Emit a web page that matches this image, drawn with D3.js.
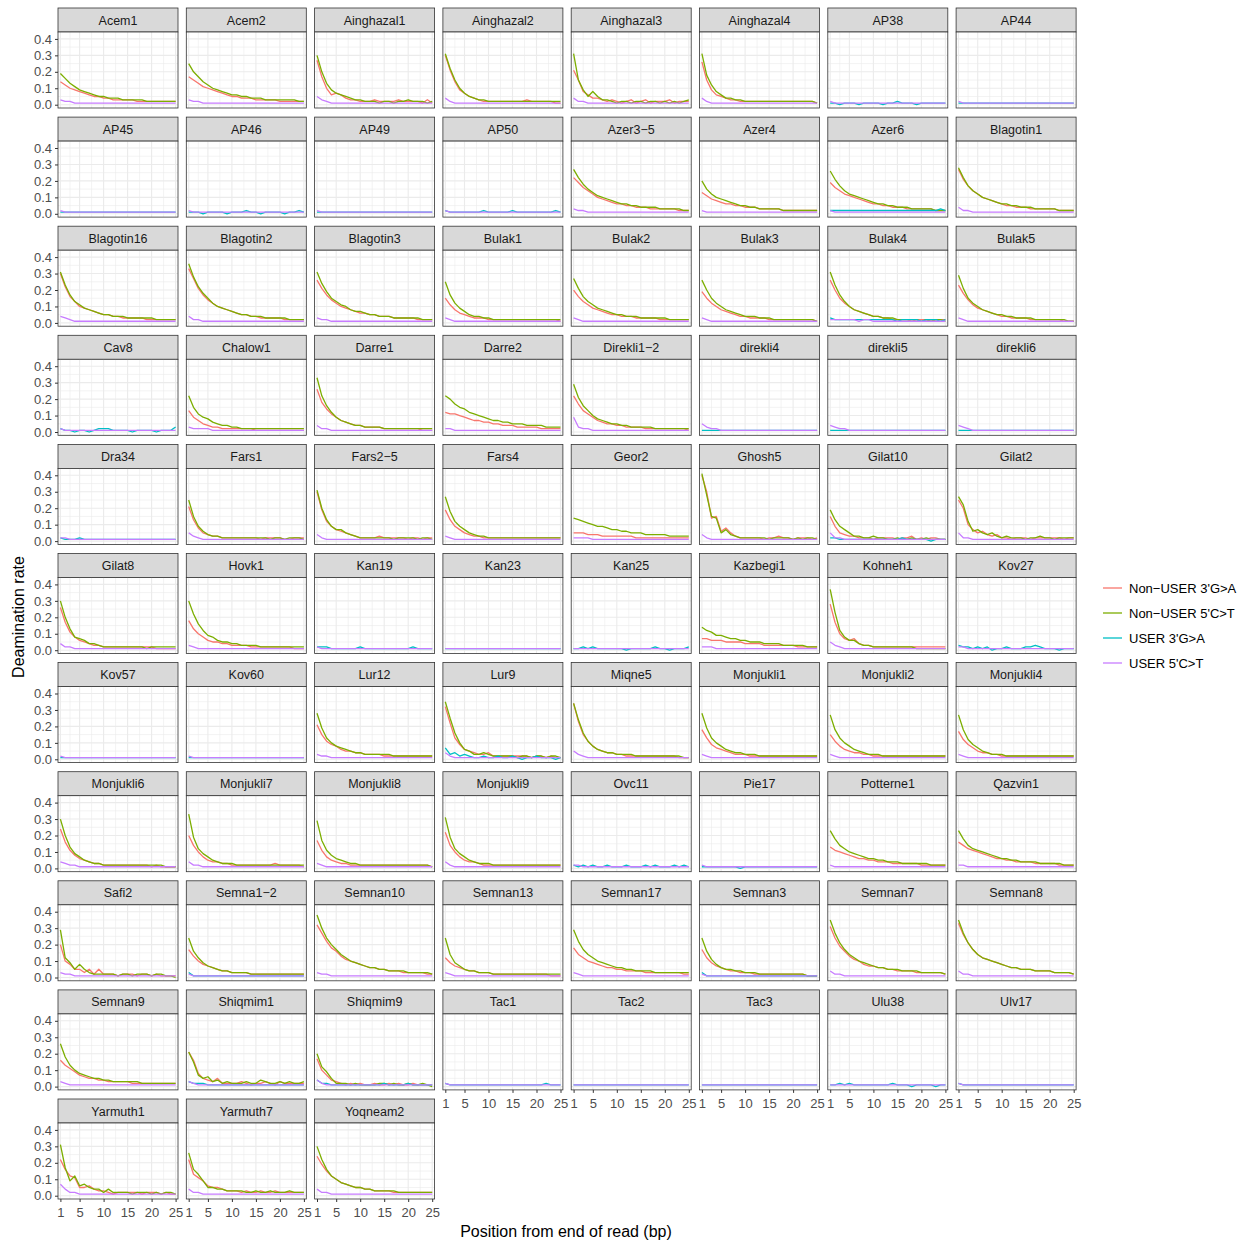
<!DOCTYPE html>
<html><head><meta charset="utf-8">
<script src="https://cdn.jsdelivr.net/npm/d3@7"></script>
<style>body{margin:0;background:#fff}</style>
</head><body>
<svg id="c" width="1247" height="1243"></svg>
<script>
const samples = [
"Acem1","Acem2","Ainghazal1","Ainghazal2","Ainghazal3","Ainghazal4","AP38","AP44",
"AP45","AP46","AP49","AP50","Azer3\u22125","Azer4","Azer6","Blagotin1",
"Blagotin16","Blagotin2","Blagotin3","Bulak1","Bulak2","Bulak3","Bulak4","Bulak5",
"Cav8","Chalow1","Darre1","Darre2","Direkli1\u22122","direkli4","direkli5","direkli6",
"Dra34","Fars1","Fars2\u22125","Fars4","Geor2","Ghosh5","Gilat10","Gilat2",
"Gilat8","Hovk1","Kan19","Kan23","Kan25","Kazbegi1","Kohneh1","Kov27",
"Kov57","Kov60","Lur12","Lur9","Miqne5","Monjukli1","Monjukli2","Monjukli4",
"Monjukli6","Monjukli7","Monjukli8","Monjukli9","Ovc11","Pie17","Potterne1","Qazvin1",
"Safi2","Semna1\u22122","Semnan10","Semnan13","Semnan17","Semnan3","Semnan7","Semnan8",
"Semnan9","Shiqmim1","Shiqmim9","Tac1","Tac2","Tac3","Ulu38","Ulv17",
"Yarmuth1","Yarmuth7","Yoqneam2"];

const positions = [1,2,3,4,5,6,7,8,9,10,11,12,13,14,15,16,17,18,19,20,21,22,23,24,25];
const seriesNames = ["Non\u2212USER 3'G>A","Non\u2212USER 5'C>T","USER 3'G>A","USER 5'C>T"];
const seriesColors = ["#F8766D","#7CAE00","#00BFC4","#C77CFF"];
const yTicks = [0,0.1,0.2,0.3,0.4];
const yTickLabels = ["0.0","0.1","0.2","0.3","0.4"];
const xTicks = [1,5,10,15,20,25];
const xTickLabels = ["1","5","10","15","20","25"];

// values in hundredths, one string of 25 positions per panel
const nonUser3GA = [
"14 12 10 9 8 7 6 5 5 4 4 3 3 3 3 3 2 2 2 2 2 2 2 2 2",
"17 15 13 11 10 9 8 7 6 5 5 4 4 4 3 3 3 3 3 2 2 2 2 2 2",
"27 17 10 6 7 6 4 3 3 2 2 2 3 2 2 2 2 3 2 2 2 2 1 3 1",
"30 21 14 9 7 5 4 3 2 2 2 2 2 2 2 2 2 3 2 2 2 2 2 1 1",
"21 15 8 6 4 4 3 2 3 2 1 2 3 1 2 3 1 2 2 2 3 1 2 2 2",
"26 15 9 6 5 4 3 3 2 2 2 2 2 2 2 2 2 2 2 2 2 2 2 2 1",
null,null,
null,null,null,null,
"22 19 16 14 12 10 9 8 7 6 6 5 5 4 4 4 3 3 3 3 3 3 2 2 2",
"13 11 9 8 7 6 6 5 5 4 4 4 3 3 3 3 3 2 2 2 2 2 2 2 2",
"19 16 14 12 11 10 9 8 7 6 6 5 5 4 4 4 3 3 3 3 3 3 2 2 2",
"27 21 17 14 12 10 9 8 7 6 5 5 4 4 4 3 3 3 3 3 3 2 2 2 2",
"30 22 16 13 10 9 8 7 6 5 5 4 4 3 3 3 3 3 2 2 2 2 2 2 2",
"33 27 21 17 14 12 10 9 8 7 6 5 5 4 4 3 3 3 3 3 2 2 2 2 2",
"26 21 17 14 12 10 9 8 7 6 6 5 5 4 4 4 3 3 3 3 3 2 2 2 2",
"15 11 8 6 5 4 3 3 3 2 2 2 2 2 2 2 2 2 2 2 2 2 2 2 1",
"20 16 13 11 9 8 7 6 5 5 4 4 4 3 3 3 3 3 2 2 2 2 2 2 2",
"19 15 12 10 8 7 6 5 4 4 3 3 3 3 2 2 2 2 2 2 2 2 2 2 1",
"26 20 15 12 10 8 7 6 5 4 4 3 3 2 2 2 2 1 2 2 2 1 2 2 2",
"23 18 14 11 9 8 7 6 5 4 4 3 3 3 3 2 2 2 2 2 2 2 1 1 1",
null,
"13 9 7 5 4 3 3 2 2 2 2 2 2 2 1 1 1 1 1 1 1 1 1 1 1",
"26 18 14 11 9 7 6 5 4 4 3 3 3 3 2 2 2 2 2 2 2 2 1 1 1",
"12 11 11 10 9 8 7 7 6 6 5 5 4 4 4 3 3 3 3 3 2 2 2 2 2",
"22 17 13 11 9 7 6 5 5 4 4 3 3 3 3 2 2 2 2 2 2 2 2 2 1",
null,null,null,
null,
"21 13 8 5 4 3 3 2 2 2 2 2 2 2 2 1 2 2 2 2 1 1 2 2 2",
"30 19 12 9 7 6 5 4 3 2 2 2 2 3 2 2 2 2 2 1 2 2 1 2 2",
"19 13 9 7 5 4 3 3 2 2 2 2 2 2 2 2 2 2 2 2 2 2 2 2 2",
"5 5 5 4 4 4 3 3 3 3 3 3 3 2 2 2 2 2 2 2 2 2 2 2 2",
"40 30 14 15 6 8 5 3 2 2 2 2 2 1 2 2 3 2 2 1 2 2 2 1 2",
"15 9 5 4 3 3 2 2 2 1 2 2 2 2 1 2 2 3 1 2 1 2 2 1 1",
"25 20 10 7 5 6 4 3 4 2 2 1 2 2 2 1 2 2 2 2 2 2 1 2 2",
"26 17 11 8 6 5 4 3 3 2 2 2 2 2 2 2 2 2 2 2 1 1 1 1 1",
"18 13 10 8 6 5 5 4 4 3 3 3 3 2 2 2 2 2 2 2 2 2 1 1 1",
null,null,null,
"7 7 6 6 6 5 5 5 5 4 4 4 4 3 3 3 3 3 3 3 2 2 2 2 2",
"28 17 10 7 6 7 4 3 3 2 2 2 2 2 2 2 2 2 2 2 2 2 2 2 2",
null,
null,null,
"21 15 11 9 8 6 5 5 4 4 3 3 3 3 2 2 2 2 2 2 2 2 2 2 2",
"32 22 13 9 6 5 4 3 3 4 2 2 2 2 2 2 2 2 1 2 2 1 2 1 1",
"34 23 15 11 8 6 5 4 4 3 3 2 2 2 2 2 2 2 2 2 2 2 1 1 1",
"18 13 9 7 6 5 4 3 3 3 2 2 2 2 2 2 2 2 2 2 2 2 2 2 2",
"15 11 8 6 5 4 4 3 3 2 2 2 2 2 2 2 2 2 2 2 2 2 2 2 2",
"17 12 9 7 5 4 4 3 3 2 2 2 2 2 2 2 2 2 2 2 2 2 2 2 2",
"24 16 11 8 6 5 4 3 3 2 2 2 2 2 2 2 2 2 2 1 2 1 1 1 1",
"20 14 10 7 5 4 4 3 3 2 2 2 2 2 2 2 2 2 3 2 2 2 2 2 1",
"17 11 7 5 4 3 3 2 2 2 2 2 2 2 2 2 2 2 2 2 2 2 2 2 1",
"22 14 10 7 5 4 4 3 2 2 2 2 2 2 2 2 2 2 2 2 2 2 2 2 2",
null,null,
"13 11 10 9 8 7 6 6 5 5 4 4 4 3 3 3 3 3 3 2 2 2 2 2 2",
"16 14 12 11 10 9 8 7 6 6 5 5 4 4 4 4 3 3 3 3 3 2 2 2 2",
"20 10 8 5 5 3 5 2 5 2 2 2 1 2 2 2 1 2 2 1 2 1 1 1 1",
"17 13 10 8 7 6 5 4 4 3 3 3 3 2 2 2 2 2 2 2 2 2 2 2 2",
"32 27 22 18 16 13 11 10 9 8 7 6 6 5 5 4 4 4 3 3 3 3 3 2 2",
"12 9 7 6 5 4 4 3 3 3 2 2 2 2 2 2 2 2 2 2 2 2 1 1 1",
"18 14 12 10 9 8 7 6 6 5 5 4 4 4 4 3 3 3 3 3 3 3 3 2 2",
"17 12 9 7 6 5 4 4 3 3 3 2 2 2 2 2 2 2 2 2 2 2 1 1 1",
"31 24 19 16 13 11 10 8 7 7 6 6 5 5 4 4 4 4 3 3 3 3 3 3 2",
"33 26 21 17 14 12 11 10 9 8 7 6 6 5 5 5 4 4 4 4 3 3 3 3 2",
"16 13 11 9 7 6 5 5 4 4 3 3 3 3 3 2 2 2 2 2 2 2 2 2 2",
"21 16 8 5 4 3 5 2 2 2 2 3 2 1 2 2 3 2 1 3 2 2 2 2 2",
"17 10 7 4 3 2 1 2 1 2 1 1 2 1 1 2 1 2 1 1 2 1 1 1 1",
null,null,null,null,null,
"22 16 12 11 5 5 6 4 3 3 2 1 2 2 2 2 2 1 2 2 2 1 2 1 1",
"22 13 11 9 6 5 5 4 3 3 3 2 3 2 2 3 2 2 3 2 2 2 2 2 2",
"24 19 15 12 10 8 7 6 5 5 4 4 3 3 3 3 2 2 2 2 2 2 2 2 2"];

const nonUser5CT = [
"19 16 13 11 9 8 7 6 5 5 4 4 4 3 3 3 3 3 2 2 2 2 2 2 2",
"25 20 17 14 12 10 9 8 7 6 6 5 5 4 4 4 3 3 3 3 3 3 3 2 2",
"30 20 13 9 7 6 5 4 3 3 2 2 2 1 2 2 1 2 2 3 2 2 2 1 2",
"31 22 15 10 7 5 4 3 3 2 2 2 2 2 2 2 2 2 2 2 2 2 2 2 2",
"31 15 9 5 8 5 3 3 2 1 2 2 1 2 2 1 2 2 1 2 1 2 1 2 3",
"31 18 12 8 6 4 4 3 3 2 2 2 2 2 2 2 2 2 2 2 2 2 2 2 1",
null,null,
null,null,null,null,
"27 22 18 15 13 11 10 9 8 7 6 6 5 5 4 4 4 4 3 3 3 3 3 2 2",
"20 15 12 10 9 8 7 6 5 5 4 4 3 3 3 3 3 2 2 2 2 2 2 2 2",
"26 21 17 14 12 11 10 9 8 7 6 6 5 5 4 4 4 3 3 3 3 3 2 2 2",
"28 22 17 14 12 10 9 8 7 6 6 5 5 4 4 4 3 3 3 3 3 2 2 2 2",
"31 23 17 13 11 9 8 7 6 5 5 4 4 4 3 3 3 3 3 3 2 2 2 2 2",
"36 28 22 18 15 12 10 9 8 7 6 5 5 4 4 4 3 3 3 3 3 2 2 2 2",
"31 24 19 15 13 11 10 8 7 7 6 5 5 4 4 4 3 3 3 3 3 3 2 2 2",
"25 17 12 9 7 5 4 4 3 3 2 2 2 2 2 2 2 2 2 2 2 2 2 2 2",
"27 21 16 13 11 9 8 7 6 5 5 4 4 4 3 3 3 3 3 3 2 2 2 2 2",
"26 20 15 12 10 8 7 6 5 4 4 4 3 3 3 2 2 2 2 2 2 2 2 2 1",
"31 23 17 13 10 8 7 6 5 4 4 3 3 3 2 2 2 2 2 1 2 1 2 2 1",
"29 21 15 12 10 8 7 6 5 5 4 4 3 3 3 3 2 2 2 2 2 2 2 1 1",
null,
"22 15 11 9 8 6 5 4 4 3 3 2 2 2 2 2 2 2 2 2 2 2 2 2 2",
"33 22 16 12 9 7 6 5 4 4 3 3 3 3 2 2 2 2 2 2 2 2 2 2 2",
"22 20 17 15 14 12 11 10 9 8 7 7 6 6 5 5 5 4 4 4 4 3 3 3 3",
"29 21 16 13 10 8 7 6 5 5 4 4 3 3 3 3 3 2 2 2 2 2 2 2 2",
null,null,null,
null,
"25 15 9 6 4 3 3 2 2 2 2 2 2 2 2 2 2 1 2 2 1 2 2 2 1",
"31 20 13 9 7 7 5 4 3 2 2 2 2 2 2 2 1 2 2 2 2 1 2 2 1",
"27 18 12 9 7 5 4 3 3 2 2 2 2 2 2 2 2 2 2 2 2 2 2 2 2",
"14 13 12 11 10 9 9 8 7 7 6 6 5 5 5 4 4 4 4 4 3 3 3 3 3",
"41 28 15 14 5 7 4 3 2 2 2 2 2 2 1 2 2 2 2 1 2 1 2 2 1",
"19 13 9 7 5 3 3 2 2 3 2 2 1 1 2 1 1 2 1 1 2 1 1 1 1",
"27 22 12 6 7 5 4 5 3 2 3 2 2 2 1 2 2 3 2 2 1 2 2 2 2",
"30 20 13 8 7 6 4 4 3 2 2 2 2 2 2 2 2 2 1 2 2 2 2 2 2",
"30 22 16 12 9 8 6 5 5 4 4 3 3 3 3 2 2 2 2 2 2 2 2 2 2",
null,null,null,
"14 12 11 9 9 8 7 7 6 6 5 5 5 4 4 4 4 3 3 3 3 3 2 2 2",
"37 23 12 8 6 6 4 3 3 2 2 2 2 2 2 2 2 2 1 1 1 1 1 1 1",
null,
null,null,
"28 19 13 10 8 7 6 5 4 4 3 3 3 3 3 3 2 2 2 2 2 2 2 2 2",
"35 25 16 10 6 5 3 3 4 3 2 2 2 2 2 1 2 2 1 2 2 1 2 2 1",
"34 24 16 11 8 6 5 4 4 3 3 3 3 2 2 2 2 2 2 2 2 2 2 1 1",
"28 19 13 10 8 6 5 4 4 3 3 3 2 2 2 2 2 2 2 2 2 2 2 2 2",
"27 18 13 10 8 6 5 4 3 3 3 2 2 2 2 2 2 2 2 2 2 2 2 2 2",
"27 18 12 9 7 5 4 3 3 3 2 2 2 2 2 2 2 2 2 2 2 2 2 2 2",
"30 20 13 9 7 5 4 3 3 2 2 2 2 2 2 2 2 2 2 2 2 2 1 1 1",
"33 19 12 9 7 5 4 3 3 3 2 2 2 2 2 2 2 2 2 2 2 2 2 2 2",
"29 17 11 8 6 5 4 3 3 2 2 2 2 2 2 2 2 2 2 2 2 2 2 2 1",
"31 19 12 9 7 5 4 3 3 3 2 2 2 2 2 2 2 2 2 2 2 2 2 2 2",
null,null,
"23 18 14 12 10 9 8 7 6 6 5 5 4 4 4 3 3 3 3 3 3 2 2 2 2",
"23 18 14 12 11 10 9 8 7 6 6 5 5 4 4 4 4 3 3 3 3 3 2 2 2",
"29 12 9 5 8 5 3 2 2 2 2 2 1 2 2 1 2 2 2 1 2 2 1 1 0",
"24 16 12 9 7 6 5 4 4 3 3 3 3 2 2 2 2 2 2 2 2 2 2 2 2",
"38 30 24 20 17 14 12 10 9 8 7 6 6 5 5 4 4 4 4 3 3 3 3 3 2",
"24 14 9 7 5 4 4 3 3 3 2 2 2 2 2 2 2 2 2 2 2 2 2 2 2",
"29 22 17 14 12 10 9 8 7 6 6 5 5 4 4 4 4 3 3 3 3 3 3 3 3",
"24 16 11 8 6 5 5 4 4 3 3 3 2 2 2 2 2 2 2 2 2 2 1 1 1",
"35 27 21 17 14 12 10 9 8 7 6 6 5 5 5 4 4 4 4 3 3 3 3 3 2",
"35 27 21 17 14 12 11 10 9 8 7 6 6 5 5 5 4 4 4 4 3 3 3 3 2",
"26 18 13 10 8 7 6 5 5 4 4 3 3 3 3 3 3 2 2 2 2 2 2 2 2",
"21 15 7 5 6 3 4 2 3 2 2 2 3 2 2 4 3 2 2 3 2 3 2 2 3",
"20 12 9 5 2 2 2 1 2 1 1 1 1 2 2 1 2 1 1 2 1 1 2 1 0",
null,null,null,null,null,
"31 17 9 12 6 7 5 4 4 2 4 2 2 2 2 1 2 2 2 1 2 1 2 2 1",
"26 16 13 9 5 5 4 4 3 3 3 3 2 2 3 2 2 3 2 2 2 3 2 2 2",
"30 22 16 12 10 8 7 6 5 5 4 4 3 3 3 3 3 2 2 2 2 2 2 2 2"];

const user3GA = [
null,null,null,null,null,null,
"1 1 0 1 1 1 0 1 1 1 1 0 1 1 2 1 1 1 0 1 1 1 1 1 1",
"1 1 1 1 1 1 1 1 1 1 1 1 1 1 1 1 1 1 1 1 1 1 1 1 1",
"1 1 1 1 1 1 1 1 1 1 1 1 1 1 1 1 1 1 1 1 1 1 1 1 1",
"1 1 1 0 1 1 1 1 0 1 1 1 2 1 1 0 1 1 1 1 0 1 1 2 1",
"1 1 1 1 1 1 1 1 1 1 1 1 1 1 1 1 1 1 1 1 1 1 1 1 1",
"2 1 1 1 1 1 1 1 2 1 1 1 1 1 2 1 1 1 1 1 1 1 1 2 1",
null,null,
"2 2 2 2 2 2 2 2 2 2 2 2 2 2 2 2 2 2 2 2 2 2 2 3 2",
null,
null,null,null,null,null,null,
"3 2 2 2 2 2 2 2 2 2 2 2 2 2 1 2 2 2 2 1 2 2 2 1 2",
null,
"2 1 1 0 1 1 0 1 2 2 2 1 1 1 1 0 1 1 1 1 0 1 1 1 3",
null,null,null,null,
"1 1 1 1 1 1 1 1 1 1 1 1 1 1 1 1 1 1 1 1 1 1 1 1 1",
"1 1 1 1 1 1 1 1 1 1 1 1 1 1 1 1 1 1 1 1 1 1 1 1 1",
"1 1 1 1 1 1 1 1 1 1 1 1 1 1 1 1 1 1 1 1 1 1 1 1 1",
"2 1 1 1 2 1 1 1 1 1 1 1 1 1 1 1 1 1 1 1 1 1 1 1 1",
null,null,null,null,null,
"2 2 1 1 1 1 1 1 1 1 1 1 1 1 1 2 1 1 1 1 1 0 1 1 1",
null,
null,null,
"2 2 2 1 1 1 1 1 1 2 1 1 1 1 1 1 1 1 1 1 2 1 1 1 1",
"1 1 1 1 1 1 1 1 1 1 1 1 1 1 1 1 1 1 1 1 1 1 1 1 1",
"1 1 2 1 2 1 1 1 1 1 1 0 1 1 1 1 1 2 1 1 0 1 1 1 2",
null,null,
"3 2 2 1 2 1 2 0 1 1 2 1 1 1 2 2 3 2 1 1 1 0 1 1 1",
"1 1 1 1 1 1 1 1 1 1 1 1 1 1 1 1 1 1 1 1 1 1 1 1 1",
"1 1 1 1 1 1 1 1 1 1 1 1 1 1 1 1 1 1 1 1 1 1 1 1 1",
null,
"7 3 4 2 3 2 1 1 2 1 1 2 1 1 2 1 0 1 1 2 1 1 1 0 1",
null,null,null,null,
null,null,null,null,
"2 1 2 1 2 1 1 2 1 1 1 2 1 1 1 2 1 2 1 1 1 2 1 2 1",
"1 1 1 1 1 1 1 1 0 1 1 1 1 1 1 1 1 1 1 1 1 1 1 1 1",
null,null,
null,
"3 1 1 1 1 1 1 1 1 1 1 1 1 1 1 1 1 1 1 1 1 1 1 1 1",
null,null,null,
"3 1 1 1 1 1 1 1 1 1 1 1 1 1 1 1 1 1 1 1 1 1 1 1 1",
null,null,
null,
"3 2 2 2 1 1 1 1 1 1 1 1 1 1 1 1 1 1 1 1 1 1 1 1 1",
"4 2 2 1 1 1 1 1 1 1 1 1 1 1 2 1 1 1 1 2 1 1 1 1 1",
"2 1 1 1 1 1 1 1 1 1 1 1 1 1 1 1 1 1 1 1 1 2 1 1 1",
"1 1 1 1 1 1 1 1 1 1 1 1 1 1 1 1 1 1 1 1 1 1 1 1 1",
"1 1 1 1 1 1 1 1 1 1 1 1 1 1 1 1 1 1 1 1 1 1 1 1 1",
"1 1 2 1 2 1 1 1 1 1 1 1 1 2 1 1 1 0 1 1 1 1 0 1 1",
"2 1 1 1 1 1 1 1 1 1 1 1 1 1 1 1 1 1 1 1 1 1 1 1 1",
null,null,null];

const user5CT = [
"3 2 2 1 1 1 1 1 1 1 1 1 1 1 1 1 1 1 1 1 1 1 1 1 1",
"3 2 2 1 1 1 1 1 1 1 1 1 1 1 1 1 1 1 1 1 1 1 1 1 1",
"5 3 2 1 1 1 1 1 1 1 1 1 1 1 1 1 1 1 1 1 1 1 1 1 1",
"4 2 1 1 1 1 1 1 1 1 1 1 1 1 1 1 1 1 1 1 1 1 1 1 1",
"4 2 2 1 1 1 1 1 1 1 1 1 1 1 1 1 1 1 1 1 1 1 1 1 1",
"4 2 1 1 1 1 1 1 1 1 1 1 1 1 1 1 1 1 1 1 1 1 1 1 1",
"2 1 1 1 1 1 1 1 1 1 1 1 1 1 1 1 1 1 1 1 1 1 1 1 1",
"2 1 1 1 1 1 1 1 1 1 1 1 1 1 1 1 1 1 1 1 1 1 1 1 1",
"2 1 1 1 1 1 1 1 1 1 1 1 1 1 1 1 1 1 1 1 1 1 1 1 1",
"2 1 1 1 1 1 1 1 1 1 1 1 1 1 1 1 1 1 1 1 1 1 1 1 1",
"2 1 1 1 1 1 1 1 1 1 1 1 1 1 1 1 1 1 1 1 1 1 1 1 1",
"2 1 1 1 1 1 1 1 1 1 1 1 1 1 1 1 1 1 1 1 1 1 1 1 1",
"3 2 2 1 1 1 1 1 1 1 1 1 1 1 1 1 1 1 1 1 1 1 1 1 1",
"2 1 1 1 1 1 1 1 1 1 1 1 1 1 1 1 1 1 1 1 1 1 1 1 1",
"2 1 1 1 1 1 1 1 1 1 1 1 1 1 1 1 1 1 1 1 1 1 1 1 1",
"4 2 2 1 1 1 1 1 1 1 1 1 1 1 1 1 1 1 1 1 1 1 1 1 1",
"4 3 2 1 1 1 1 1 1 1 1 1 1 1 1 1 1 1 1 1 1 1 1 1 1",
"4 2 2 1 1 1 1 1 1 1 1 1 1 1 1 1 1 1 1 1 1 1 1 1 1",
"3 2 2 1 1 1 1 1 1 1 1 1 1 1 1 1 1 1 1 1 1 1 1 1 1",
"3 2 1 1 1 1 1 1 1 1 1 1 1 1 1 1 1 1 1 1 1 1 1 1 1",
"3 2 1 1 1 1 1 1 1 1 1 1 1 1 1 1 1 1 1 1 1 1 1 1 1",
"3 2 1 1 1 1 1 1 1 1 1 1 1 1 1 1 1 1 1 1 1 1 1 1 1",
"2 2 2 2 2 2 1 2 2 1 1 1 1 1 1 1 1 1 1 1 1 1 1 1 1",
"3 2 1 1 1 1 1 1 1 1 1 1 1 1 1 1 1 1 1 1 1 1 1 1 1",
"2 1 1 1 1 1 1 1 1 1 1 1 1 1 1 1 1 1 1 1 1 1 1 1 1",
"3 2 2 2 2 1 1 1 1 1 1 1 1 1 1 1 1 1 1 1 1 1 1 1 1",
"4 2 2 1 1 1 1 1 1 1 1 1 1 1 1 1 1 1 1 1 1 1 1 1 1",
"2 2 1 1 1 1 1 1 1 1 1 1 1 1 1 1 1 1 1 1 1 1 1 1 1",
"9 3 2 2 1 1 1 1 1 1 1 1 1 1 1 1 1 1 1 1 1 1 1 1 1",
"5 3 2 2 1 1 1 1 1 1 1 1 1 1 1 1 1 1 1 1 1 1 1 1 1",
"4 3 2 2 1 1 1 1 1 1 1 1 1 1 1 1 1 1 1 1 1 1 1 1 1",
"4 3 2 1 1 1 1 1 1 1 1 1 1 1 1 1 1 1 1 1 1 1 1 1 1",
"2 2 1 1 1 1 1 1 1 1 1 1 1 1 1 1 1 1 1 1 1 1 1 1 1",
"5 3 2 1 1 1 1 1 1 1 1 1 1 1 1 1 1 1 1 1 1 1 1 1 1",
"4 2 1 1 1 1 1 1 1 1 1 1 1 1 1 1 1 1 1 1 1 1 1 1 1",
"3 2 1 1 1 1 1 1 1 1 1 1 1 1 1 1 1 1 1 1 1 1 1 1 1",
"2 2 2 2 1 1 1 1 1 1 1 1 1 1 1 1 1 1 1 1 1 1 1 1 1",
"4 2 1 1 1 1 1 1 1 1 1 1 1 1 1 1 1 1 1 1 1 1 1 1 1",
"5 2 2 1 1 1 1 1 1 1 1 1 1 1 1 1 1 1 1 1 1 1 1 1 1",
"5 2 2 1 1 1 1 1 1 1 1 1 1 1 1 1 1 1 1 1 1 1 1 1 1",
"4 2 2 1 1 1 1 1 1 1 1 1 1 1 1 1 1 1 1 1 1 1 1 1 1",
"3 2 1 1 1 1 1 1 1 1 1 1 1 1 1 1 1 1 1 1 1 1 1 1 1",
"2 1 1 1 1 1 1 1 1 1 1 1 1 1 1 1 1 1 1 1 1 1 1 1 1",
"1 1 1 1 1 1 1 1 1 1 1 1 1 1 1 1 1 1 1 1 1 1 1 1 1",
"1 1 1 1 1 1 1 1 1 1 1 1 1 1 1 1 1 1 1 1 1 1 1 1 1",
"2 2 2 1 1 1 1 1 1 1 1 1 1 1 1 1 1 1 1 1 1 1 1 1 1",
"5 3 2 1 1 1 1 1 1 1 1 1 1 1 1 1 1 1 1 1 1 1 1 1 1",
"2 2 1 1 1 1 1 1 1 1 1 1 1 1 1 1 1 1 1 1 1 1 1 1 1",
"2 1 1 1 1 1 1 1 1 1 1 1 1 1 1 1 1 1 1 1 1 1 1 1 1",
"2 1 1 1 1 1 1 1 1 1 1 1 1 1 1 1 1 1 1 1 1 1 1 1 1",
"3 2 2 1 1 1 1 1 1 1 1 1 1 1 1 1 1 1 1 1 1 1 1 1 1",
"4 2 1 1 1 1 1 1 1 1 1 1 1 1 1 1 1 1 1 1 1 1 1 1 1",
"5 3 2 1 1 1 1 1 1 1 1 1 1 1 1 1 1 1 1 1 1 1 1 1 1",
"3 2 1 1 1 1 1 1 1 1 1 1 1 1 1 1 1 1 1 1 1 1 1 1 1",
"3 2 1 1 1 1 1 1 1 1 1 1 1 1 1 1 1 1 1 1 1 1 1 1 1",
"3 2 1 1 1 1 1 1 1 1 1 1 1 1 1 1 1 1 1 1 1 1 1 1 1",
"4 3 2 2 1 1 1 1 1 1 1 1 1 1 1 1 1 1 1 1 1 1 1 1 1",
"4 2 2 1 1 1 1 1 1 1 1 1 1 1 1 1 1 1 1 1 1 1 1 1 1",
"3 2 1 1 1 1 1 1 1 1 1 1 1 1 1 1 1 1 1 1 1 1 1 1 1",
"4 2 1 1 1 1 1 1 1 1 1 1 1 1 1 1 1 1 1 1 1 1 1 1 1",
"2 2 1 1 1 1 1 1 1 1 1 1 1 1 1 1 1 1 1 1 1 1 1 1 1",
"2 1 1 1 1 1 1 1 1 1 1 1 1 1 1 1 1 1 1 1 1 1 1 1 1",
"2 1 1 1 1 1 1 1 1 1 1 1 1 1 1 1 1 1 1 1 1 1 1 1 1",
"2 2 1 1 1 1 1 1 1 1 1 1 1 1 1 1 1 1 1 1 1 1 1 1 1",
"3 2 2 1 1 1 1 1 1 1 1 1 1 1 1 1 1 1 1 1 1 1 1 1 1",
"2 1 1 1 1 1 1 1 1 1 1 1 1 1 1 1 1 1 1 1 1 1 1 1 1",
"3 2 2 1 1 1 1 1 1 1 1 1 1 1 1 1 1 1 1 1 1 1 1 1 1",
"3 2 1 1 1 1 1 1 1 1 1 1 1 1 1 1 1 1 1 1 1 1 1 1 1",
"3 2 1 1 1 1 1 1 1 1 1 1 1 1 1 1 1 1 1 1 1 1 1 1 1",
"2 1 1 1 1 1 1 1 1 1 1 1 1 1 1 1 1 1 1 1 1 1 1 1 1",
"4 2 2 1 1 1 1 1 1 1 1 1 1 1 1 1 1 1 1 1 1 1 1 1 1",
"4 2 2 1 1 1 1 1 1 1 1 1 1 1 1 1 1 1 1 1 1 1 1 1 1",
"3 2 1 1 1 1 1 1 1 1 1 1 1 1 1 1 1 1 1 1 1 1 1 1 1",
"3 2 1 1 1 1 1 1 1 1 1 1 1 1 1 1 1 1 1 1 1 1 1 1 1",
"4 2 1 1 1 1 1 1 1 1 1 1 1 1 1 1 1 1 1 1 1 1 1 1 1",
"2 1 1 1 1 1 1 1 1 1 1 1 1 1 1 1 1 1 1 1 1 1 1 1 1",
"1 1 1 1 1 1 1 1 1 1 1 1 1 1 1 1 1 1 1 1 1 1 1 1 1",
"1 1 1 1 1 1 1 1 1 1 1 1 1 1 1 1 1 1 1 1 1 1 1 1 1",
"1 1 1 1 1 1 1 1 1 1 1 1 1 1 1 1 1 1 1 1 1 1 1 1 1",
"2 1 1 1 1 1 1 1 1 1 1 1 1 1 1 1 1 1 1 1 1 1 1 1 1",
"7 4 2 2 1 1 1 1 1 1 1 1 1 1 1 1 1 1 1 1 1 1 1 1 1",
"4 2 2 1 1 1 1 1 1 1 1 1 1 1 1 1 1 1 1 1 1 1 1 1 1",
"4 2 2 1 1 1 1 1 1 1 1 1 1 1 1 1 1 1 1 1 1 1 1 1 1"];

const FONT = '"Liberation Sans", Arial, Helvetica, sans-serif';
const parse = s => s == null ? null : s.trim().split(/\s+/).map(v => +v / 100);
const series = [nonUser3GA, nonUser5CT, user3GA, user5CT];

const svg = d3.select('#c');
svg.append('rect').attr('width',1247).attr('height',1243).attr('fill','#fff');

const nCol = 8, left0 = 58, top0 = 8, panelW = 120, colStep = 128.3, rowStep = 109.1, stripH = 24, panelH = 76;
const x = d3.scaleLinear().domain([0.5, 25.5]).range([0, panelW]);
const y = d3.scaleLinear().domain([-0.02, 0.442]).range([panelH, 0]);
const line = d3.line().x((d, j) => x(positions[j])).y(d => y(d));
const yMinor = [0.05, 0.15, 0.25, 0.35];
const xMinor = [3, 7.5, 12.5, 17.5, 22.5];
const GRID = '#EBEBEB';

samples.forEach((name, i) => {
  const col = i % nCol, row = Math.floor(i / nCol);
  const gx = left0 + col * colStep, gy = top0 + row * rowStep;
  const g = svg.append('g').attr('transform', `translate(${gx},${gy})`);
  g.append('rect').attr('width', panelW).attr('height', stripH)
    .attr('fill', '#D9D9D9').attr('stroke', '#333').attr('stroke-width', 0.8);
  g.append('text').attr('x', panelW / 2).attr('y', stripH / 2 + 0.5)
    .attr('text-anchor', 'middle').attr('dominant-baseline', 'central')
    .style('font', `12.5px ${FONT}`).attr('fill', '#1A1A1A').text(name);

  const p = g.append('g').attr('transform', `translate(0,${stripH})`);
  p.append('rect').attr('width', panelW).attr('height', panelH).attr('fill', '#fff');
  p.selectAll('.ymn').data(yMinor).join('line')
    .attr('x1', 0).attr('x2', panelW).attr('y1', d => y(d)).attr('y2', d => y(d))
    .attr('stroke', GRID).attr('stroke-width', 0.6);
  p.selectAll('.xmn').data(xMinor).join('line')
    .attr('y1', 0).attr('y2', panelH).attr('x1', d => x(d)).attr('x2', d => x(d))
    .attr('stroke', GRID).attr('stroke-width', 0.6);
  p.selectAll('.ymj').data(yTicks).join('line')
    .attr('x1', 0).attr('x2', panelW).attr('y1', d => y(d)).attr('y2', d => y(d))
    .attr('stroke', GRID).attr('stroke-width', 1.1);
  p.selectAll('.xmj').data(xTicks).join('line')
    .attr('y1', 0).attr('y2', panelH).attr('x1', d => x(d)).attr('x2', d => x(d))
    .attr('stroke', GRID).attr('stroke-width', 1.1);

  series.forEach((arr, k) => {
    const v = parse(arr[i]);
    if (!v) return;
    p.append('path').attr('d', line(v)).attr('fill', 'none')
      .attr('stroke', seriesColors[k]).attr('stroke-width', 1.3)
      .attr('stroke-linejoin', 'round');
  });

  p.append('rect').attr('width', panelW).attr('height', panelH)
    .attr('fill', 'none').attr('stroke', '#333').attr('stroke-width', 0.8);

  if (col === 0) {
    const ax = p.append('g').call(d3.axisLeft(y).tickValues(yTicks)
      .tickFormat((d, j) => yTickLabels[j]).tickSize(3).tickPadding(3));
    ax.select('.domain').remove();
    ax.selectAll('line').attr('stroke', '#333');
    ax.selectAll('text').attr('fill', '#4D4D4D').style('font', `13px ${FONT}`);
  }
  if (i + nCol >= samples.length) {
    const ax = p.append('g').attr('transform', `translate(0,${panelH})`)
      .call(d3.axisBottom(x).tickValues(xTicks)
        .tickFormat((d, j) => xTickLabels[j]).tickSize(3).tickPadding(6));
    ax.select('.domain').remove();
    ax.selectAll('line').attr('stroke', '#333');
    ax.selectAll('text').attr('fill', '#4D4D4D').style('font', `13px ${FONT}`);
  }
});

// axis titles
svg.append('text').attr('x', 566).attr('y', 1231)
  .attr('text-anchor', 'middle').attr('dominant-baseline', 'central')
  .style('font', `16px ${FONT}`).attr('fill', '#000')
  .text('Position from end of read (bp)');
svg.append('text').attr('transform', 'translate(18,617) rotate(-90)')
  .attr('text-anchor', 'middle').attr('dominant-baseline', 'central')
  .style('font', `16px ${FONT}`).attr('fill', '#000')
  .text('Deamination rate');

// legend
const leg = svg.append('g');
seriesNames.forEach((nm, k) => {
  const ly = 588 + k * 25;
  leg.append('line').attr('x1', 1103).attr('x2', 1122).attr('y1', ly).attr('y2', ly)
    .attr('stroke', seriesColors[k]).attr('stroke-width', 1.3);
  leg.append('text').attr('x', 1129).attr('y', ly).attr('dominant-baseline', 'central')
    .style('font', `13px ${FONT}`).attr('fill', '#000').text(nm);
});
</script>
</body></html>
